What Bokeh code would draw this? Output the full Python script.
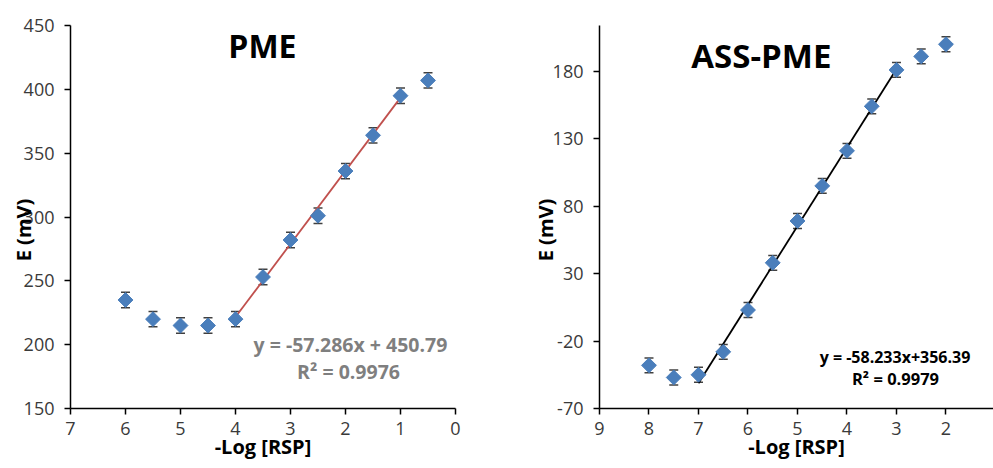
import math
from bokeh.plotting import figure
from bokeh.layouts import row
from bokeh.models import ColumnDataSource, Whisker, TeeHead, Label, FixedTicker, Range1d
from bokeh.embed import file_html
from bokeh.resources import INLINE

# ---------------- data ----------------
pme_x = [6, 5.5, 5, 4.5, 4, 3.5, 3, 2.5, 2, 1.5, 1, 0.5]
pme_y = [235, 220, 215, 215, 220, 253, 282, 301, 336, 364, 395, 407]
pme_err = [6, 6, 6, 6, 6, 6, 6, 6, 6, 6, 6, 6]
pme_fit_x = [4, 1]
pme_slope, pme_icpt = -57.286, 450.79

ass_x = [8, 7.5, 7, 6.5, 6, 5.5, 5, 4.5, 4, 3.5, 3, 2.5, 2]
ass_y = [-38, -47, -45, -28, 3, 38, 69, 95, 121, 154, 181, 191, 200]
ass_err = [5.5] * 13
ass_fit_x = [7, 3]
ass_slope, ass_icpt = -58.233, 356.39

pme_xticks = [7, 6, 5, 4, 3, 2, 1, 0]
pme_yticks = [150, 200, 250, 300, 350, 400, 450]
ass_xticks = [9, 8, 7, 6, 5, 4, 3, 2, 1]
ass_yticks = [-70, -20, 30, 80, 130, 180]

FONT = "Open Sans"
MARK = "#4a7ebb"
TICKC = "#3a3a3a"
NB = "\u00a0"


def style(p, xticks, yticks, ystand, xstand, xlab, ylab, xls, yls):
    p.grid.visible = False
    p.outline_line_color = None
    for ax in (p.xaxis[0], p.yaxis[0]):
        ax.axis_line_color = "black"
        ax.axis_line_width = 1.5
        ax.major_tick_line_color = "black"
        ax.major_tick_line_width = 1.5
        ax.major_tick_out = 6
        ax.major_tick_in = 0
        ax.minor_tick_line_color = None
        ax.major_label_text_font = FONT
        ax.major_label_text_font_size = "18px"
        ax.major_label_text_color = TICKC
        ax.axis_label_text_font = FONT
        ax.axis_label_text_font_size = "20px"
        ax.axis_label_text_font_style = "bold"
        ax.axis_label_text_color = "black"
    p.xaxis[0].ticker = FixedTicker(ticks=xticks)
    p.yaxis[0].ticker = FixedTicker(ticks=yticks)
    p.yaxis[0].major_label_overrides = {t: str(t) for t in yticks if t < 0}
    p.yaxis[0].major_label_standoff = ystand
    p.xaxis[0].major_label_standoff = xstand
    p.xaxis[0].axis_label = xlab
    p.yaxis[0].axis_label = ylab
    p.xaxis[0].axis_label_standoff = xls
    p.yaxis[0].axis_label_standoff = yls


def points(p, xs, ys, errs):
    src = ColumnDataSource(dict(x=xs, y=ys,
                                lo=[a - e for a, e in zip(ys, errs)],
                                hi=[a + e for a, e in zip(ys, errs)]))
    w = Whisker(base="x", lower="lo", upper="hi", source=src,
                line_color="#404040", line_width=1.5,
                upper_head=TeeHead(size=9, line_color="#404040", line_width=1.5),
                lower_head=TeeHead(size=9, line_color="#404040", line_width=1.5))
    p.add_layout(w)
    p.scatter("x", "y", source=src, marker="square", angle=math.pi / 4,
              size=10.5, fill_color=MARK, line_color=MARK)


def lab(p, x, y, text, size, color="black", bold=True, align="center"):
    p.add_layout(Label(x=x, y=y, text=text, text_font=FONT,
                       text_font_size=size, text_color=color,
                       text_font_style="bold" if bold else "normal",
                       text_align=align, text_baseline="alphabetic"))


# ---------------- left: PME ----------------
p1 = figure(width=520, height=468, output_backend="svg", toolbar_location=None,
            x_range=Range1d(7, 0), y_range=Range1d(150, 450),
            min_border_left=70, min_border_right=65, min_border_top=25,
            min_border_bottom=60)
style(p1, pme_xticks, pme_yticks, 10, 7, "-Log [RSP]",
      "E (mV)" + NB * 5, -5, -16)
p1.line(pme_fit_x, [pme_slope * v + pme_icpt for v in pme_fit_x],
        line_color="#c0504d", line_width=1.8)
points(p1, pme_x, pme_y, pme_err)
lab(p1, 3.51, 434.3, "PME", "32px")
lab(p1, 1.91, 200.3, "y = -57.286x + 450.79", "19.5px", color="#7f7f7f")
lab(p1, 1.945, 178.8, "R² = 0.9976", "19.5px", color="#7f7f7f")

# ---------------- right: ASS-PME ----------------
p2 = figure(width=473, height=468, output_backend="svg", toolbar_location=None,
            x_range=Range1d(9, 1.04), y_range=Range1d(-70, 213.9),
            min_border_left=79, min_border_right=0, min_border_top=25,
            min_border_bottom=60)
style(p2, ass_xticks, ass_yticks, 10, 7, "-Log [RSP]",
      "E (mV)" + NB * 5, -5, -9)
p2.line(ass_fit_x, [ass_slope * v + ass_icpt for v in ass_fit_x],
        line_color="black", line_width=1.8)
points(p2, ass_x, ass_y, ass_err)
lab(p2, 5.73, 191.6, "ASS-PME", "33px")
lab(p2, 3.03, -31.7, "y = -58.233x+356.39", "16px")
lab(p2, 3.02, -47.8, "R² = 0.9979", "16.5px")

layout = row(p1, p2, spacing=0)
open("out.html", "w").write(file_html(layout, INLINE))
